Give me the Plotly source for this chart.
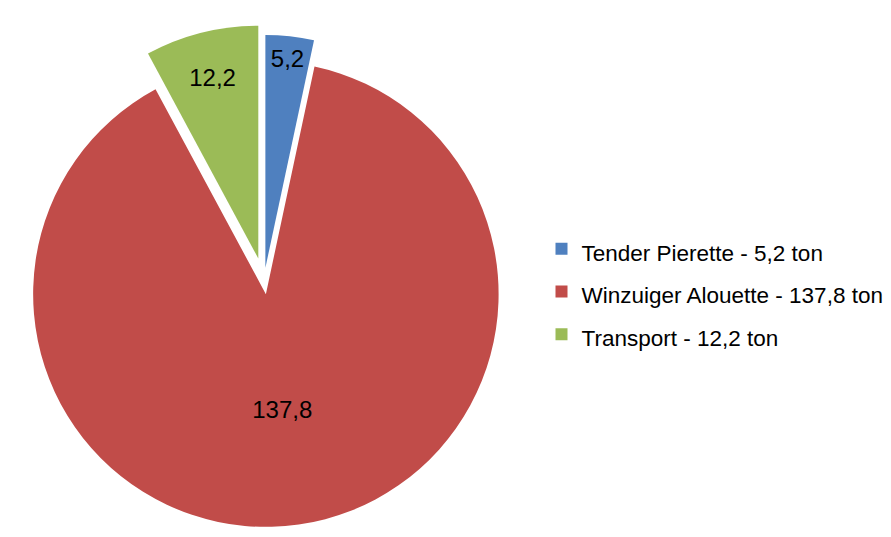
import plotly.graph_objects as go

categories = ["Tender Pierette", "Winzuiger Alouette", "Transport"]
values = [5.2, 137.8, 12.2]
unit = "ton"
colors = ["#4f80bf", "#c14c49", "#9bbb57"]
pulls = [0.057, 0.057, 0.10]

def fmt(v):
    return f"{v:.1f}".replace(".", ",")

legend_labels = [
    f'<span style="font-size:22.5px">{c} - {fmt(v)} {unit}</span>'
    for c, v in zip(categories, values)
]

# page has an 8px body margin, so the figure is sized to the visible area
W, H = 883, 529
S = 512          # pie box size in px
cy = 273         # pie centre (figure px from top)

y0 = max(0.0, (H - cy - S / 2) / H)
y1 = min(1.0, (H - cy + S / 2) / H)

fig = go.Figure(
    go.Pie(
        labels=legend_labels,
        values=values,
        sort=False,
        direction="clockwise",
        rotation=0,
        pull=pulls,
        marker=dict(colors=colors, line=dict(width=0)),
        texttemplate="%{value:.1f}",
        textposition="inside",
        insidetextorientation="horizontal",
        textfont=dict(size=24, color="black", family="Liberation Sans, Arial, sans-serif"),
        hoverinfo="none",
        domain=dict(x=[0, S / W], y=[y0, y1]),
    )
)

fig.update_layout(
    width=W,
    height=H,
    margin=dict(l=0, r=0, t=0, b=0),
    separators=",.",
    paper_bgcolor="white",
    plot_bgcolor="white",
    font=dict(family="Liberation Sans, Arial, sans-serif", color="black"),
    legend=dict(
        x=533.5 / W,
        y=0.464,
        xanchor="left",
        yanchor="middle",
        font=dict(size=30.5, color="black"),
        bgcolor="rgba(0,0,0,0)",
    ),
    showlegend=True,
)

fig.write_html("out.html")
